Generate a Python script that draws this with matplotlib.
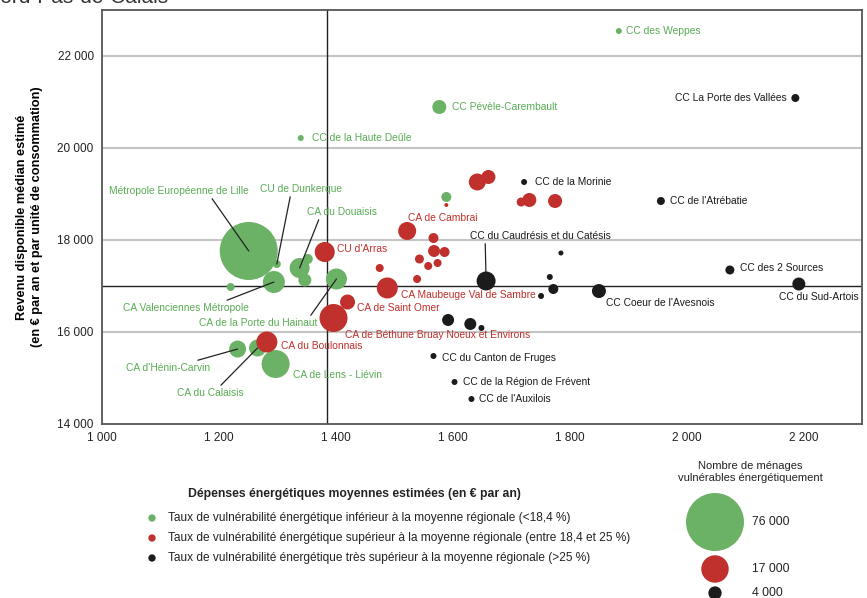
import matplotlib
matplotlib.use("Agg")
import matplotlib.pyplot as plt
from matplotlib.ticker import FuncFormatter

plt.rcParams['font.family'] = ['Liberation Sans', 'DejaVu Sans']

# data : depenses energetiques (x), revenu median (y), nb menages vulnerables
green_names = ["Métropole Européenne de Lille", "CA de Lens - Liévin", "CA Valenciennes Métropole",
               "CA de la Porte du Hainaut", "CA du Douaisis", "CA d'Hénin-Carvin", "CA du Calaisis",
               "CC Pévèle-Carembault", "", "CU de Dunkerque", "", "", "CC de la Haute Deûle",
               "CC des Weppes", ""]
green_x = [1251, 1297, 1294, 1401, 1338, 1232, 1266, 1577, 1347, 1299, 1352, 1589, 1340, 1884, 1220]
green_y = [17761, 15304, 17087, 17152, 17391, 15630, 15652, 20891, 17130, 17478, 17587, 18935, 20217, 22543, 16978]
green_n = [76000, 17700, 10900, 9960, 9000, 6500, 6500, 4430, 3820, 1450, 2260, 2260, 810, 810, 1450]

red_names = ["CA de Béthune Bruay Noeux et Environs", "CA du Boulonnais", "CA Maubeuge Val de Sambre",
             "CU d'Arras", "CA de Cambrai", "", "CA de Saint Omer", "", "", "", "", "", "", "",
             "", "", "", "", "", ""]
red_x = [1396, 1282, 1488, 1381, 1522, 1642, 1420, 1661, 1731, 1775, 1568, 1567, 1586, 1717,
         1543, 1475, 1558, 1574, 1539, 1589]
red_y = [16304, 15783, 16957, 17739, 18196, 19261, 16652, 19370, 18870, 18848, 17761, 18043, 17739, 18826,
         17587, 17391, 17435, 17500, 17152, 18761]
red_n = [17700, 9960, 9960, 9040, 7320, 6530, 5080, 4430, 4430, 4430, 3250, 2260, 2260, 1830,
         1830, 1450, 1450, 1450, 1450, 360]

black_names = ["CC du Caudrésis et du Catésis", "CC Coeur de l'Avesnois", "CC du Sud-Artois", "", "",
               "", "CC des 2 Sources", "CC de l'Atrébatie", "CC La Porte des Vallées", "CC de la Morinie",
               "", "", "", "CC du Canton de Fruges", "CC de la Région de Frévent", "CC de l'Auxilois", ""]
black_x = [1657, 1850, 2192, 1592, 1630, 1772, 2074, 1956, 2186, 1722, 1766, 1751, 1649, 1567, 1603, 1632, 1785]
black_y = [17109, 16891, 17043, 16261, 16174, 16935, 17348, 18848, 21087, 19261, 17196, 16783, 16087,
           15478, 14913, 14543, 17717]
black_n = [8150, 4430, 3820, 3250, 3250, 2260, 1830, 1450, 1450, 810, 810, 810, 810, 810, 810, 810, 565]

mean_x = 1385
mean_y = 17000
x_ticks = [1000, 1200, 1400, 1600, 1800, 2000, 2200]
y_ticks = [14000, 16000, 18000, 20000, 22000]
legend_sizes = [76000, 17000, 4000]

GREEN = '#6cb266'
RED = '#c0302c'
BLACK = '#1b1b1b'
GREEN_TXT = '#5aac55'
RED_TXT = '#c0302c'
BLACK_TXT = '#1b1b1b'

# label placement : (dx, dy) in pixels, ha, relpos for leader line (None = no line)
label_pos = {
    "CC des Weppes": (7, 0, 'left', None),
    "CC Pévèle-Carembault": (13, 0, 'left', None),
    "CC de la Haute Deûle": (11, 0, 'left', None),
    "Métropole Européenne de Lille": (-70, 60, 'center', (0.72, 0.1)),
    "CU de Dunkerque": (24, 75, 'center', (0.38, 0.1)),
    "CA du Douaisis": (42, 56, 'center', (0.2, 0.2)),
    "CA Valenciennes Métropole": (-88, -26, 'center', (0.75, 0.9)),
    "CA de la Porte du Hainaut": (-78, -44, 'center', (0.92, 0.9)),
    "CA d'Hénin-Carvin": (-70, -19, 'center', (0.7, 0.9)),
    "CA de Lens - Liévin": (17, -11, 'left', None),
    "CA du Calaisis": (-47, -45, 'center', (0.6, 0.9)),
    "CU d'Arras": (12, 3, 'left', None),
    "CA de Saint Omer": (9, -6, 'left', None),
    "CA de Béthune Bruay Noeux et Environs": (11, -17, 'left', None),
    "CA du Boulonnais": (14, -4, 'left', None),
    "CA Maubeuge Val de Sambre": (14, -7, 'left', None),
    "CA de Cambrai": (1, 13, 'left', None),
    "CC de la Morinie": (11, 0, 'left', None),
    "CC de l'Atrébatie": (9, 0, 'left', None),
    "CC La Porte des Vallées": (-9, 0, 'right', None),
    "CC du Caudrésis et du Catésis": (54, 45, 'center', (0.11, 0.1)),
    "CC des 2 Sources": (10, 2, 'left', None),
    "CC Coeur de l'Avesnois": (7, -12, 'left', None),
    "CC du Sud-Artois": (20, -13, 'center', None),
    "CC du Canton de Fruges": (9, -2, 'left', None),
    "CC de la Région de Frévent": (8, 0, 'left', None),
    "CC de l'Auxilois": (8, 0, 'left', None),
}

SCALE = (0.72 * 58) ** 2 / 76000.0  # area in pt^2 per menage

fig = plt.figure(figsize=(8.67, 5.98), dpi=100)
ax = fig.add_axes([102 / 867, 1 - 424 / 598, 760 / 867, 414 / 598])

ax.set_xlim(1000, 2300)
ax.set_ylim(14000, 23000)
for yv in y_ticks[1:]:
    ax.axhline(yv, color='#c4c4c4', lw=1.5, zorder=0)
ax.axvline(mean_x, color='#222222', lw=1, zorder=1)
ax.axhline(mean_y, color='#222222', lw=1, zorder=1)

groups = [(green_names, green_x, green_y, green_n, GREEN, GREEN_TXT),
          (red_names, red_x, red_y, red_n, RED, RED_TXT),
          (black_names, black_x, black_y, black_n, BLACK, BLACK_TXT)]

z = 2
for names, xs, ys, ns, col, tcol in groups:
    order = sorted(range(len(ns)), key=lambda i: -ns[i])
    for i in order:
        ax.scatter(xs[i], ys[i], s=ns[i] * SCALE, color=col, edgecolors='none', zorder=z)
        z += 0.01
    for i in range(len(names)):
        if names[i] == "":
            continue
        dx, dy, ha, rel = label_pos[names[i]]
        kw = {}
        if rel is not None:
            kw['arrowprops'] = dict(arrowstyle='-', color='#222222', lw=0.9, relpos=rel,
                                    shrinkA=0, shrinkB=0)
        ax.annotate(names[i], (xs[i], ys[i]), xytext=(dx, dy), textcoords='offset pixels',
                    ha=ha, va='center', fontsize=7.4, color=tcol, zorder=10, **kw)

ax.set_xticks(x_ticks)
ax.set_yticks(y_ticks)
fmt = FuncFormatter(lambda v, p: "{:,}".format(int(v)).replace(",", " "))
ax.xaxis.set_major_formatter(fmt)
ax.yaxis.set_major_formatter(fmt)
ax.tick_params(length=0, labelsize=8.5, colors='#222222', pad=6)
for sp in ax.spines.values():
    sp.set_color('#555555')
    sp.set_linewidth(1.3)

ax.set_ylabel("Revenu disponible médian estimé\n(en € par an et par unité de consommation)",
              fontsize=9.2, fontweight='bold', labelpad=10, linespacing=1.35)

# titre coupe en haut
fig.text(-0.017, 0.995, "Nord-Pas-de-Calais", fontsize=15, color='#333333', va='baseline')

# legendes
lax = fig.add_axes([0, 0, 1, 1], zorder=-1)
lax.set_xlim(0, 867)
lax.set_ylim(598, 0)
lax.axis('off')

fig.text(354 / 867, 1 - 494 / 598, "Dépenses énergétiques moyennes estimées (en € par an)",
         ha='center', va='center', fontsize=8.8, fontweight='bold', color='#222222')
cat_labels = ["Taux de vulnérabilité énergétique inférieur à la moyenne régionale (<18,4 %)",
              "Taux de vulnérabilité énergétique supérieur à la moyenne régionale (entre 18,4 et 25 %)",
              "Taux de vulnérabilité énergétique très supérieur à la moyenne régionale (>25 %)"]
for k, (lab, col) in enumerate(zip(cat_labels, [GREEN, RED, BLACK])):
    yy = 518 + 20 * k
    lax.scatter(152, yy, s=28, color=col, edgecolors='none')
    lax.text(168, yy, lab, va='center', fontsize=8.55, color='#222222')

lax.text(750, 472, "Nombre de ménages\nvulnérables énergétiquement", ha='center', va='center',
         fontsize=8.0, color='#222222', linespacing=1.3)
for val, yy, col in zip(legend_sizes, [522, 569, 593], [GREEN, RED, BLACK]):
    lax.scatter(715, yy, s=val * SCALE, color=col, edgecolors='none')
    lax.text(752, yy, "{:,}".format(val).replace(",", " "), va='center', fontsize=8.8, color='#222222')

fig.savefig("out.png", dpi=100)
